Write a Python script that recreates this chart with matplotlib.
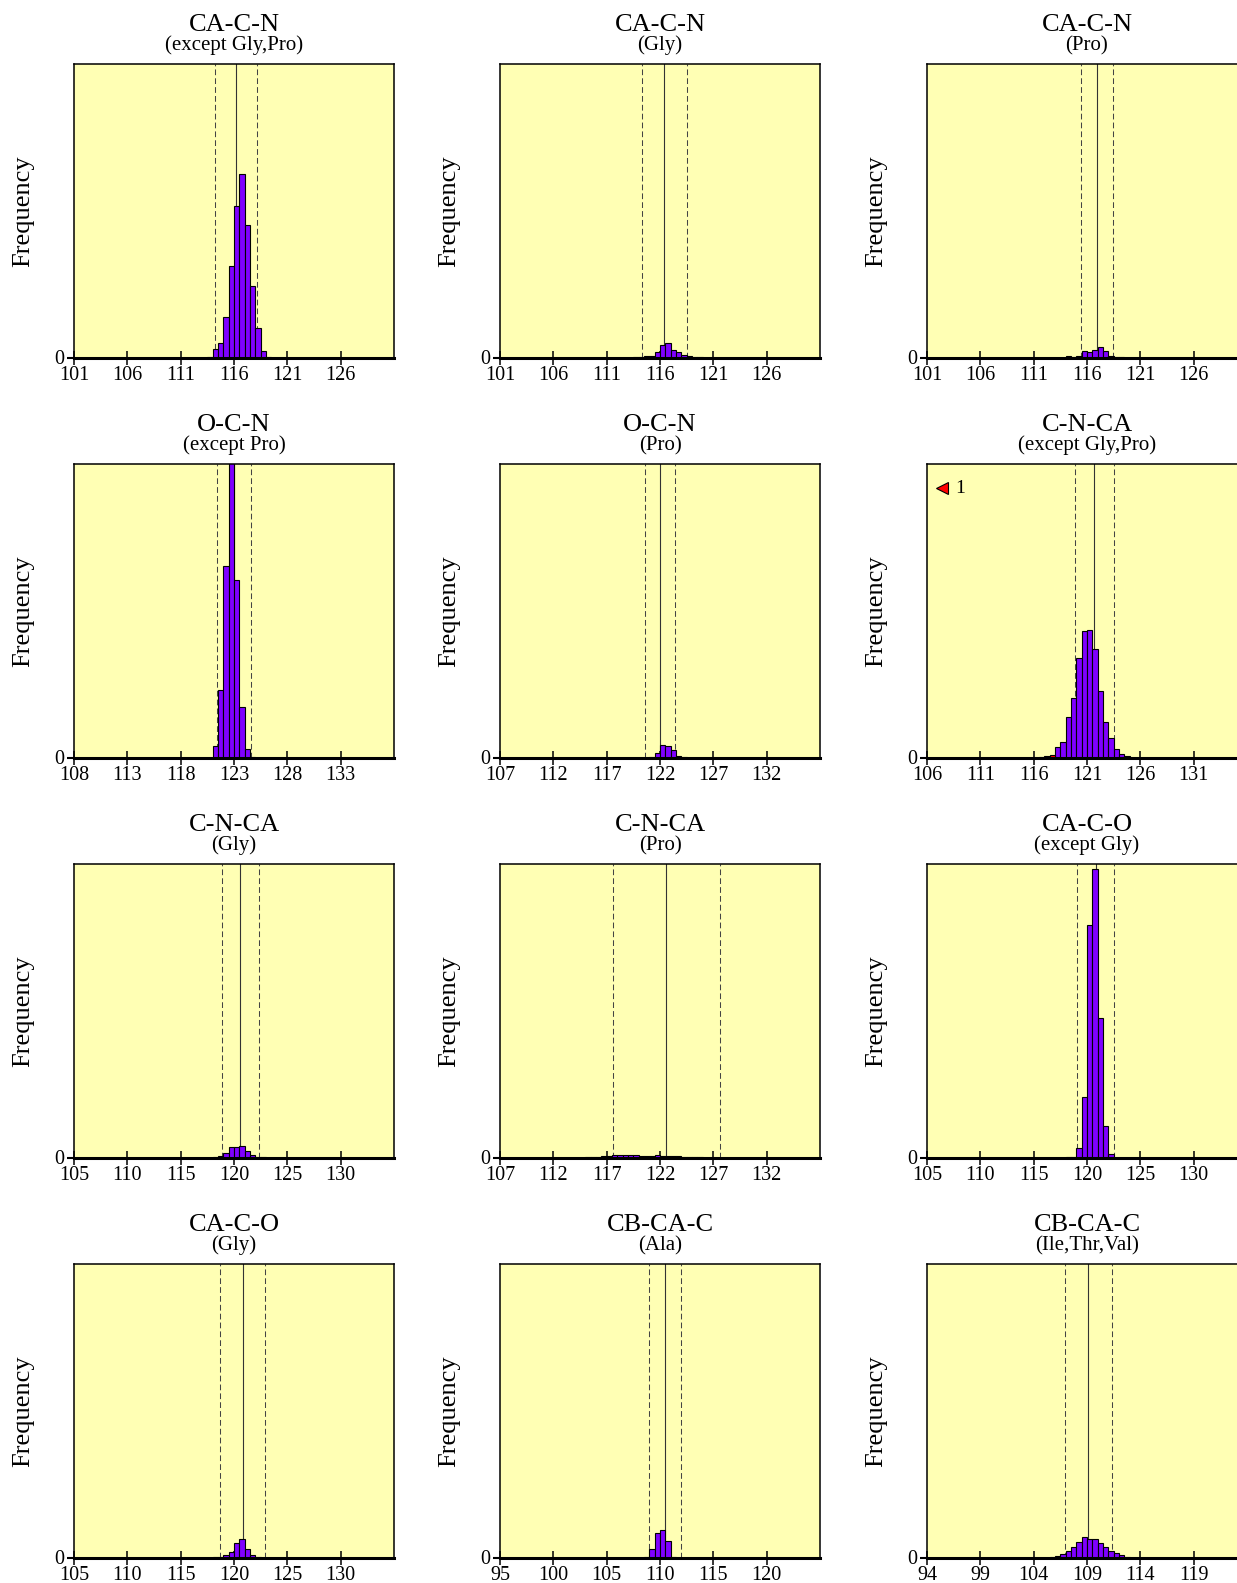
import numpy as np
import matplotlib
matplotlib.use('Agg')
import matplotlib.pyplot as plt

plt.rcParams['font.family'] = ['Liberation Serif', 'DejaVu Serif']

# panel labels
titles = ['CA-C-N', 'CA-C-N', 'CA-C-N', 'O-C-N', 'O-C-N', 'C-N-CA',
          'C-N-CA', 'C-N-CA', 'CA-C-O', 'CA-C-O', 'CB-CA-C', 'CB-CA-C']
subtitles = ['(except Gly,Pro)', '(Gly)', '(Pro)', '(except Pro)', '(Pro)', '(except Gly,Pro)',
             '(Gly)', '(Pro)', '(except Gly)', '(Gly)', '(Ala)', '(Ile,Thr,Val)']

# x axis start (each axis spans 30 degrees)
x_start = [101, 101, 101, 108, 107, 106, 105, 107, 105, 105, 95, 94]

# ideal value and sigma (solid / dashed lines)
ideal_mean = [116.2, 116.4, 116.9, 123.0, 122.0, 121.7, 120.6, 122.6, 120.8, 120.8, 110.5, 109.1]
ideal_sd = [2.0, 2.1, 1.5, 1.6, 1.4, 1.8, 1.7, 5.0, 1.7, 2.1, 1.5, 2.2]

# histograms: left edge of first bin, bin width 0.5
bin_width = 0.5
hist_lo = [113.5, 113.5, 114.0, 121.0, 121.0, 118.0, 118.0, 115.0, 118.0, 118.0, 108.5, 105.5]
hist_counts = [
    [0.3, 8.3, 14.7, 41, 92, 152, 184, 133, 72, 30, 6.7, 1],
    [0.3, 0.3, 1.7, 1.7, 5.7, 12.3, 14.3, 7.7, 5.7, 2.7, 1.3, 0.3, 0.3],
    [1.7, 0.3, 1.7, 6.7, 5.7, 7.7, 10.3, 6.7, 1.7, 0.3, 0.3],
    [11.7, 68, 192, 330, 178, 51, 9, 1],
    [1, 5, 12.3, 11.7, 7.7, 2, 1],
    [10.3, 15.3, 41, 59.3, 100, 127, 128, 109, 66.3, 36, 19.3, 8.3, 3.3, 1.7],
    [0.3, 1.3, 4.7, 10.3, 10.3, 12, 6.3, 3, 0.7, 0.3],
    [0.3, 0.3, 0.7, 1.3, 1.7, 2.3, 3, 2.3, 2.7, 2.3, 2, 2, 2, 3, 1.7, 2, 1.7, 1.7, 1, 0.5, 0.3, 0.3],
    [1, 1, 10, 61, 233, 289, 140, 32, 3.3],
    [0.5, 1, 2.5, 6, 15, 18.7, 8.7, 2.7, 1],
    [0.7, 8.3, 25, 27.7, 16.7, 1],
    [1, 2, 3.7, 7, 11, 16, 20.3, 19, 18.7, 14.3, 11, 6.7, 4.3, 2.7, 1],
]
# outlier bins (red) in C-N-CA (except Gly,Pro)
outlier_panel = 5
outlier_lo = 116.5
outlier_counts = [0.3, 1.3, 3]
outlier_offscale = 1  # count below axis range

y_top = 293.5

W, H = 1237, 1583
fig = plt.figure(figsize=(W / 100, H / 100), dpi=100)

col_left = [74, 500, 927]
row_base = [357.5, 757.5, 1157.5, 1557.5]
ax_w, ax_h = 320, 293.5

for i in range(12):
    r, c = divmod(i, 3)
    ax = fig.add_axes([col_left[c] / W, 1 - row_base[r] / H, ax_w / W, ax_h / H])
    ax.set_facecolor('#ffffb4')
    lo = x_start[i]
    ax.set_xlim(lo, lo + 30)
    ax.set_ylim(0, y_top)

    m, s = ideal_mean[i], ideal_sd[i]
    ax.axvline(m, color='#333333', lw=0.8, zorder=1)
    for d in (m - s, m + s):
        ax.axvline(d, color='#444444', lw=0.75, ls=(0, (5.5, 3)), zorder=1)

    counts = hist_counts[i]
    edges = hist_lo[i] + bin_width * np.arange(len(counts))
    ax.bar(edges, counts, width=bin_width, align='edge', color='#7f00ff',
           edgecolor='black', linewidth=0.8, zorder=2)

    if i == outlier_panel:
        oe = outlier_lo + bin_width * np.arange(len(outlier_counts))
        ax.bar(oe, outlier_counts, width=bin_width, align='edge', color='red',
               edgecolor='black', linewidth=0.8, zorder=2)
        ax.plot([0.047], [0.918], marker='<', ms=9, mfc='red', mec='black', mew=0.8,
                transform=ax.transAxes, clip_on=False, zorder=5)
        ax.text(0.088, 0.918, str(outlier_offscale), transform=ax.transAxes,
                fontsize=14, va='center', ha='left')

    for sp in ['top', 'left', 'right']:
        ax.spines[sp].set_linewidth(1.1)
    ax.spines['bottom'].set_linewidth(2.2)

    ax.set_xticks(range(lo, lo + 26, 5))
    ax.set_yticks([0])
    ax.tick_params(axis='x', direction='inout', length=10, width=1.1, labelsize=14.5, pad=1)
    ax.tick_params(axis='y', direction='out', length=5, width=1.5, labelsize=14.5, pad=2)

    ax.annotate(titles[i], xy=(0.5, 1), xycoords='axes fraction', xytext=(0, 23.8),
                textcoords='offset points', ha='center', va='baseline', fontsize=19)
    ax.annotate(subtitles[i], xy=(0.5, 1), xycoords='axes fraction', xytext=(0, 10),
                textcoords='offset points', ha='center', va='baseline', fontsize=15)

    ax.set_ylabel('Frequency', fontsize=19)
    ax.yaxis.set_label_coords(-0.125, 0.5)

fig.savefig('out.png', dpi=100)
